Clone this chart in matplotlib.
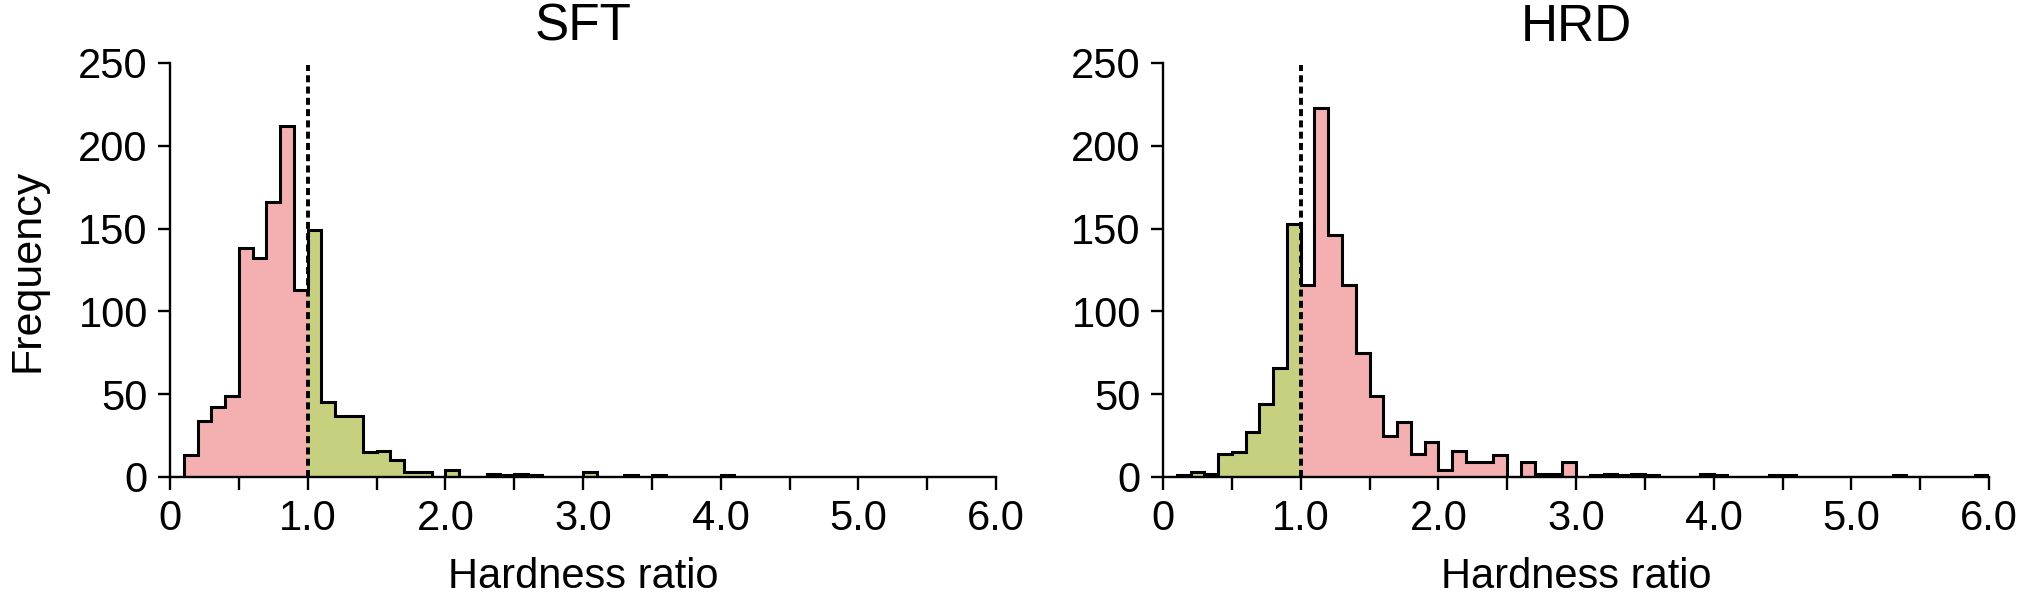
import numpy as np
import matplotlib
matplotlib.use("Agg")
import matplotlib.pyplot as plt

plt.rcParams["font.family"] = ["Liberation Sans", "DejaVu Sans"]

# histogram data, bins of width 0.1 from 0.0 to 6.0
bin_edges = np.round(np.linspace(0.0, 6.0, 61), 1)

sft_counts = [
    0, 13, 34, 42, 49, 138, 132, 166, 212, 113,   # 0.0 - 1.0
    149, 45, 37, 37, 15, 16, 10, 3, 3, 0,         # 1.0 - 2.0
    4, 0, 0, 2, 1, 2, 1, 0, 0, 0,                 # 2.0 - 3.0
    3, 0, 0, 1, 0, 1, 0, 0, 0, 0,                 # 3.0 - 4.0
    1, 0, 0, 0, 0, 0, 0, 0, 0, 0,                 # 4.0 - 5.0
    0, 0, 0, 0, 0, 0, 0, 0, 0, 0,                 # 5.0 - 6.0
]
hrd_counts = [
    0, 1, 3, 2, 14, 15, 27, 44, 66, 153,
    116, 223, 146, 116, 75, 49, 25, 33, 14, 21,
    4, 16, 9, 9, 13, 0, 9, 2, 2, 9,
    0, 1, 2, 1, 2, 1, 0, 0, 0, 2,
    1, 0, 0, 0, 1, 1, 0, 0, 0, 0,
    0, 0, 0, 1, 0, 0, 0, 0, 0, 1,
]

titles = ["SFT", "HRD"]
threshold = 1.0
x_ticks = [0, 0.5, 1.0, 1.5, 2.0, 2.5, 3.0, 3.5, 4.0, 4.5, 5.0, 5.5, 6.0]
x_ticklabels = ["0", "", "1.0", "", "2.0", "", "3.0", "", "4.0", "", "5.0", "", "6.0"]
y_ticks = [0, 50, 100, 150, 200, 250]

PINK = "#F4B0B0"
GREEN = "#C6D07E"
# colour below / above the threshold for each panel
panel_colors = [(PINK, GREEN), (GREEN, PINK)]

fig = plt.figure(figsize=(20.2, 5.94), dpi=100)
axes = [
    fig.add_axes([170 / 2020, 117 / 594, 826 / 2020, 414 / 594]),
    fig.add_axes([1163 / 2020, 117 / 594, 826 / 2020, 414 / 594]),
]

for ax, counts, title, (c_lo, c_hi) in zip(axes, [sft_counts, hrd_counts], titles, panel_colors):
    counts = np.asarray(counts, dtype=float)
    split = int(np.searchsorted(bin_edges, threshold))

    ax.stairs(counts[:split], bin_edges[:split + 1], fill=True, color=c_lo, lw=0)
    ax.stairs(counts[split:], bin_edges[split:], fill=True, color=c_hi, lw=0)
    ax.stairs(counts, bin_edges, fill=False, color="black", lw=2.2, baseline=0)

    # threshold marker
    ax.plot([threshold, threshold], [0, 249], color="black", lw=2.8,
            linestyle=(0, (1.8, 1.1)), zorder=5)

    ax.set_xlim(0, 6.0)
    ax.set_ylim(0, 250)
    ax.set_xticks(x_ticks)
    ax.set_xticklabels(x_ticklabels)
    ax.set_yticks(y_ticks)

    for side in ("top", "right"):
        ax.spines[side].set_visible(False)
    for side in ("left", "bottom"):
        ax.spines[side].set_linewidth(1.7)
    ax.tick_params(direction="out", length=9, width=1.7, labelsize=30, pad=7)

    ax.set_title(title, fontsize=37, pad=16)
    ax.set_xlabel("Hardness ratio", fontsize=30, labelpad=13)

axes[0].set_ylabel("Frequency", fontsize=31, labelpad=22)

fig.savefig("out.png", dpi=100)
